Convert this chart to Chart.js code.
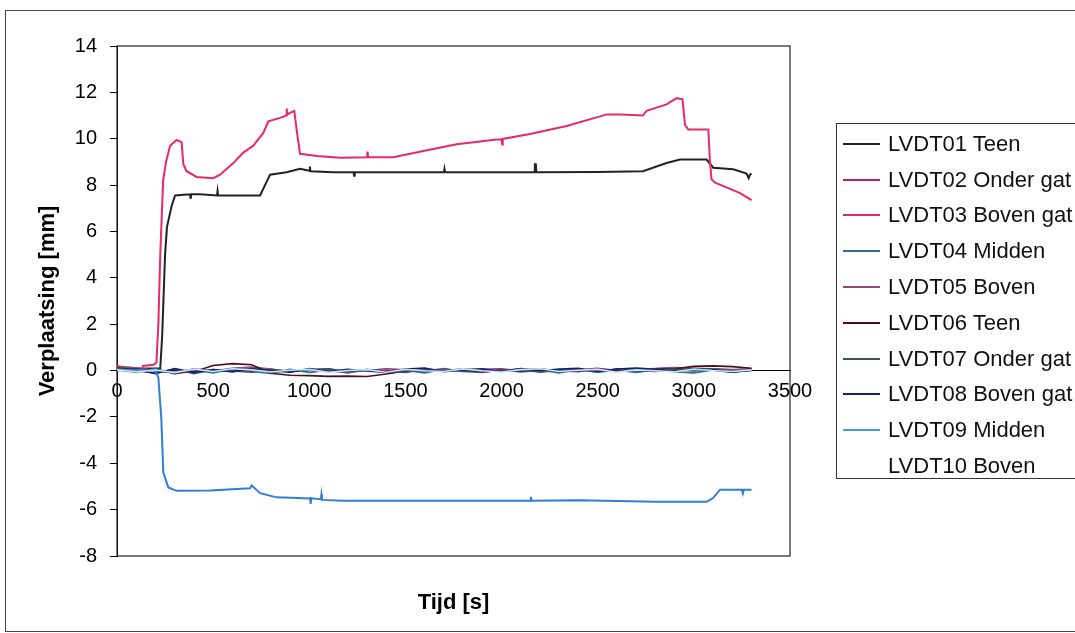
<!DOCTYPE html>
<html>
<head>
<meta charset="utf-8">
<script src="https://cdn.jsdelivr.net/npm/chart.js@4.4.1/dist/chart.umd.min.js"></script>
<style>
  html, body { margin: 0; padding: 0; background: #fff; overflow: hidden; }
  #wrap { position: relative; width: 1075px; height: 633px; overflow: hidden; }
  #frame { position: absolute; left: 5px; top: 10px; width: 1100px; height: 620px; border: 1px solid #444; }
  #chart { position: absolute; left: 0; top: 0; }
  #legend { position: absolute; left: 836px; top: 123px; width: 300px; height: 356px; border: 1px solid #333;
            font-family: "Liberation Sans", Arial, sans-serif; font-size: 22px; color: #111; padding-top: 2px; box-sizing: border-box; }
  .item { height: 35.8px; display: flex; align-items: center; white-space: nowrap; }
  .swatch { width: 37px; height: 2px; margin-left: 6px; margin-right: 8px; }
</style>
</head>
<body>
<div id="wrap">
  <div id="frame"></div>
  <canvas id="chart" width="1075" height="633"></canvas>
  <div id="legend"></div>
</div>
<script>
const seriesNames = ['LVDT01 Teen', 'LVDT02 Onder gat', 'LVDT03 Boven gat', 'LVDT04 Midden', 'LVDT05 Boven',
                     'LVDT06 Teen', 'LVDT07 Onder gat', 'LVDT08 Boven gat', 'LVDT09 Midden', 'LVDT10 Boven'];
const seriesColors = ['#222222', '#b0247a', '#e8286e', '#2a6f8f', '#8a4a72',
                      '#4a0e1e', '#3f5550', '#14207f', '#2e7fd8', '#bfe9f5'];
const legendColors = ['#222222', '#b0247a', '#e8286e', '#2a6f8f', '#8a4a72',
                      '#4a0e1e', '#3f5550', '#14207f', '#4a98d8', '#ffffff'];

const xTicks = [0, 500, 1000, 1500, 2000, 2500, 3000, 3500];
const yTicks = [-8, -6, -4, -2, 0, 2, 4, 6, 8, 10, 12, 14];

// LVDT01 (black)
const lvdt01T = [0, 100, 225, 235, 250, 260, 284, 302, 380, 383, 386, 432, 520, 523, 526, 600, 744, 796, 882, 952,
                 1000, 1003, 1006, 1125, 1230, 1233, 1236, 1500, 1700, 1703, 1706, 2000, 2170, 2173, 2178, 2181,
                 2500, 2735, 2858, 2928, 3066, 3101, 3205, 3274, 3285, 3292, 3300];
const lvdt01V = [0.1, 0.08, 0.1, 1.5, 5, 6.2, 7.1, 7.55, 7.6, 7.4, 7.6, 7.6, 7.55, 7.75, 7.55, 7.55, 7.55, 8.45, 8.55, 8.7,
                 8.62, 8.8, 8.6, 8.55, 8.55, 8.4, 8.55, 8.55, 8.55, 8.7, 8.55, 8.55, 8.55, 8.9, 8.9, 8.55,
                 8.56, 8.6, 8.95, 9.1, 9.1, 8.75, 8.68, 8.5, 8.3, 8.45, 8.5];

// LVDT03 (pink)
const lvdt03T = [0, 20, 60, 130, 135, 190, 205, 215, 225, 240, 255, 276, 310, 336, 345, 362, 414, 500, 536, 605, 657, 709,
                 761, 787, 848, 880, 883, 886, 908, 922, 934, 952, 1040, 1160, 1300, 1303, 1306, 1437, 1593, 1767,
                 1975, 2000, 2003, 2006, 2148, 2339, 2547, 2616, 2735, 2754, 2858, 2910, 2941, 2954, 2971, 3075,
                 3084, 3092, 3110, 3170, 3240, 3300];
const lvdt03V = [0.2, 0.15, 0.05, 0.05, 0.2, 0.25, 0.35, 2, 5, 8.2, 9.0, 9.7, 9.95, 9.85, 8.9, 8.6, 8.35, 8.3, 8.45, 8.95, 9.4, 9.7,
                 10.25, 10.75, 10.9, 11.0, 11.3, 11.05, 11.15, 11.2, 10.4, 9.35, 9.25, 9.18, 9.2, 9.45, 9.2, 9.2, 9.47, 9.76,
                 9.97, 9.98, 9.75, 9.99, 10.2, 10.55, 11.05, 11.05, 11.0, 11.2, 11.48, 11.75, 11.7, 10.6, 10.4, 10.4,
                 9.0, 8.25, 8.1, 7.9, 7.65, 7.35];

// LVDT09 (blue)
const lvdt09T = [0, 200, 215, 230, 241, 267, 310, 484, 692, 700, 744, 830, 1004, 1007, 1010, 1020, 1060, 1063, 1066, 1177,
                 1680, 2150, 2153, 2156, 2400, 2800, 3066, 3100, 3136, 3250, 3255, 3260, 3300];
const lvdt09V = [0.05, 0.0, -0.3, -2, -4.4, -5.04, -5.19, -5.17, -5.08, -4.95, -5.29, -5.47, -5.52, -5.75, -5.5, -5.52, -5.55, -5.35, -5.58, -5.62,
                 -5.62, -5.62, -5.45, -5.62, -5.6, -5.66, -5.66, -5.5, -5.14, -5.14, -5.3, -5.14, -5.14];

// small signals around zero, sampled every 100 s
const noiseT = [0, 100, 200, 300, 400, 500, 600, 700, 800, 900, 1000, 1100, 1200, 1300, 1400, 1500, 1600,
                1700, 1800, 1900, 2000, 2100, 2200, 2300, 2400, 2500, 2600, 2700, 2800, 2900, 3000, 3100, 3200, 3300];
const lvdt02V = [0.1, 0.06, 0.02, -0.08, 0.05, -0.04, 0.08, 0.1, 0.0, -0.06, 0.04, 0.07, -0.05, 0.0, 0.08, 0.03, -0.02, 0.09, -0.04, 0.05, 0.08, -0.02, 0.06, -0.05, 0.03, 0.1, 0.0, 0.05, 0.08, 0.12, 0.08, 0.06, 0.02, 0.07];
const lvdt04V = [0.03, -0.07, 0.08, -0.15, 0.02, -0.1, 0.07, -0.04, -0.12, 0.05, -0.08, 0.02, -0.1, 0.04, -0.07, 0.01, -0.1, 0.06, -0.04, -0.08, 0.04, -0.06, 0.02, -0.1, 0.05, -0.07, 0.01, -0.08, 0.04, -0.05, -0.1, 0.02, -0.07, 0.03];
const lvdt05V = [0.18, 0.12, 0.0, -0.1, 0.07, -0.02, 0.1, 0.15, 0.06, -0.04, 0.05, -0.02, -0.08, 0.04, -0.02, -0.06, 0.07, -0.01, 0.04, -0.07, 0.02, 0.05, 0.08, -0.02, -0.05, 0.07, -0.01, 0.04, 0.09, 0.13, 0.1, 0.07, 0.04, 0.06];
const lvdt06V = [0.1, 0.05, 0.0, -0.1, -0.05, 0.22, 0.3, 0.25, -0.12, -0.2, -0.22, -0.25, -0.24, -0.26, -0.15, -0.02, 0.0, -0.03, 0.02, -0.05, 0.0, -0.02, 0.02, -0.04, 0.0, 0.02, -0.02, 0.0, 0.05, 0.08, 0.18, 0.2, 0.17, 0.1];
const lvdt07V = [0.07, -0.02, -0.1, 0.06, -0.14, 0.04, -0.02, -0.07, 0.05, -0.04, 0.02, 0.07, -0.06, 0.04, -0.02, -0.08, 0.05, -0.01, 0.08, -0.04, 0.01, 0.05, -0.07, 0.01, 0.04, -0.06, 0.07, -0.01, -0.04, 0.05, -0.02, 0.08, -0.04, 0.01];
const lvdt08V = [0.0, 0.05, -0.14, 0.09, -0.08, 0.04, -0.06, 0.08, -0.01, -0.07, 0.09, -0.04, 0.05, -0.02, -0.08, 0.06, 0.11, -0.05, 0.04, 0.08, -0.04, 0.09, -0.01, 0.06, 0.1, -0.04, 0.07, 0.11, 0.05, -0.04, 0.09, 0.03, -0.07, 0.0];
const lvdt10V = [0.03, -0.05, 0.02, -0.09, 0.06, -0.04, 0.08, 0.03, -0.06, 0.01, 0.05, -0.08, 0.0, 0.04, -0.07, 0.05, -0.01, -0.04, 0.07, -0.01, -0.06, 0.04, 0.08, -0.04, 0.01, 0.05, -0.07, 0.03, -0.01, -0.05, 0.06, 0.0, -0.04, 0.03];

function pts(ts, vs) {
    return ts.map((t, i) => ({ x: t, y: vs[i] }));
}

const seriesData = [
    pts(lvdt01T, lvdt01V),
    pts(noiseT, lvdt02V),
    pts(lvdt03T, lvdt03V),
    pts(noiseT, lvdt04V),
    pts(noiseT, lvdt05V),
    pts(noiseT, lvdt06V),
    pts(noiseT, lvdt07V),
    pts(noiseT, lvdt08V),
    pts(lvdt09T, lvdt09V),
    pts(noiseT, lvdt10V)
];
const bigSeries = [0, 2, 8];

const font = "'Liberation Sans', Arial, sans-serif";

const plotFrame = {
    id: 'plotFrame',
    beforeDatasetsDraw(chart) {
        const a = chart.chartArea;
        const ctx = chart.ctx;
        ctx.save();
        ctx.strokeStyle = '#222';
        ctx.lineWidth = 1.2;
        ctx.strokeRect(a.left, a.top, a.right - a.left, a.bottom - a.top);
        ctx.restore();
    }
};

const ctx = document.getElementById('chart').getContext('2d');
const chart = new Chart(ctx, {
    type: 'line',
    data: {
        datasets: seriesNames.map((name, i) => ({
            label: name,
            data: seriesData[i],
            borderColor: seriesColors[i],
            backgroundColor: seriesColors[i],
            borderWidth: bigSeries.includes(i) ? 2 : 1.6,
            pointRadius: 0,
            tension: 0,
            fill: false
        })).reverse()
    },
    options: {
        responsive: false,
        animation: false,
        layout: { padding: { left: 0, top: 46, right: 285, bottom: 0 } },
        plugins: { legend: { display: false }, tooltip: { enabled: false } },
        scales: {
            x: {
                type: 'linear',
                position: { y: 0 },
                min: 0, max: 3500,
                afterBuildTicks: s => { s.ticks = xTicks.map(v => ({ value: v })); },
                ticks: { autoSkip: false, maxRotation: 0, padding: 9, color: '#000',
                         font: { family: font, size: 20 }, callback: v => String(v) },
                grid: { display: false, drawTicks: false },
                border: { display: true, color: '#000', width: 1 }
            },
            xTitle: {
                type: 'linear',
                position: 'bottom',
                axis: 'x',
                min: 0, max: 3500,
                ticks: { display: false },
                grid: { display: false, drawTicks: false },
                border: { display: false },
                title: { display: true, text: 'Tijd [s]', color: '#000', padding: { top: 0, bottom: 17 },
                         font: { family: font, size: 22, weight: 'bold' } },
                afterFit: s => { s.height = 77; }
            },
            y: {
                type: 'linear',
                position: 'left',
                min: -8, max: 14,
                afterBuildTicks: s => { s.ticks = yTicks.map(v => ({ value: v })); },
                ticks: { padding: 13, color: '#000', font: { family: font, size: 20 }, callback: v => String(v) },
                grid: { display: true, drawOnChartArea: false, drawTicks: true, tickLength: 7, color: '#000' },
                border: { display: true, color: '#000', width: 1 },
                title: { display: true, text: 'Verplaatsing [mm]', color: '#000', padding: { top: 35, bottom: 0 },
                         font: { family: font, size: 22, weight: 'bold' } },
                afterFit: s => { s.width = 117; }
            }
        }
    },
    plugins: [plotFrame]
});

// legend built from the same series lists
const legend = document.getElementById('legend');
seriesNames.forEach((name, i) => {
    const row = document.createElement('div');
    row.className = 'item';
    const sw = document.createElement('span');
    sw.className = 'swatch';
    sw.style.background = legendColors[i];
    const tx = document.createElement('span');
    tx.textContent = name;
    row.appendChild(sw);
    row.appendChild(tx);
    legend.appendChild(row);
});
</script>
</body>
</html>
